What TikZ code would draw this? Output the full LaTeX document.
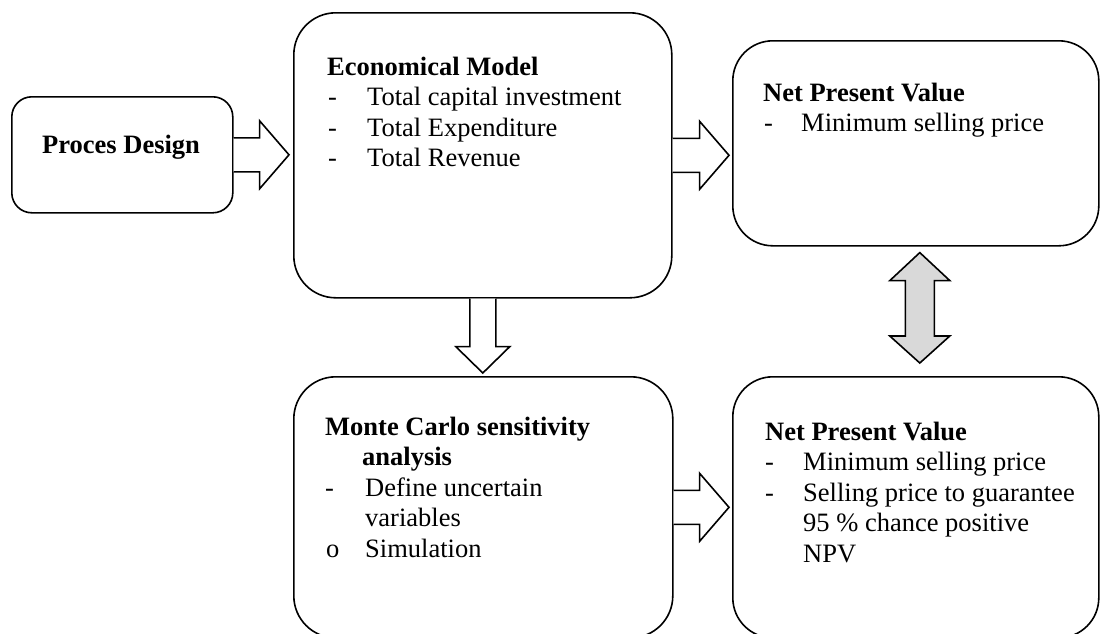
\documentclass[tikz,border=0pt]{standalone}
\usepackage{fontspec}
\setmainfont{Liberation Serif}
\usetikzlibrary{calc}
\definecolor{arrowgrey}{HTML}{D9D9D9}
\begin{document}
\begin{tikzpicture}[x=1pt,y=-1pt,
  box/.style={draw=black, line width=1.6pt, fill=white, inner sep=0pt, anchor=north west},
  barrow/.style={draw=black, line width=1.6pt, fill=white, line join=miter},
  darrow/.style={draw=black, line width=1.6pt, fill=arrowgrey, line join=miter},
  txt/.style={font=\fontsize{26.5}{30.5}\selectfont, inner sep=0pt, anchor=base west},
  btxt/.style={txt, font=\fontsize{26.5}{30.5}\selectfont\bfseries}]
\clip (0,0) rectangle (1101,633);
\fill[white] (0,0) rectangle (1101,633);
% boxes
\node[box, rounded corners=20pt, minimum width=221pt, minimum height=116pt] (pd) at (11,96) {};
\node[box, rounded corners=42pt, minimum width=378pt, minimum height=285pt] (em) at (293,12) {};
\node[box, rounded corners=40pt, minimum width=366pt, minimum height=205pt] (npv1) at (732,40) {};
\node[box, rounded corners=42pt, minimum width=379pt, minimum height=261pt] (mc) at (293,376) {};
\node[box, rounded corners=40pt, minimum width=366pt, minimum height=261pt] (npv2) at (732,376) {};
% texts
\node[btxt] (pdt) at (42,153) {Proces Design};
\node[btxt] (emt) at (327,75) {Economical Model};
\node[txt] (emd1) at (328,105.5) {-};
\node[txt] (emi1) at (367,105.5) {Total capital investment};
\node[txt] (emd2) at (328,136) {-};
\node[txt] (emi2) at (367,136) {Total Expenditure};
\node[txt] (emd3) at (328,166.5) {-};
\node[txt] (emi3) at (367,166.5) {Total Revenue};
\node[btxt] (n1t) at (763,101) {Net Present Value};
\node[txt] (n1d1) at (764,131.5) {-};
\node[txt] (n1i1) at (801,131.5) {Minimum selling price};
\node[btxt] (mct1) at (325,435) {Monte Carlo sensitivity};
\node[btxt] (mct2) at (362,465.5) {analysis};
\node[txt] (mcd1) at (325,496) {-};
\node[txt] (mci1) at (365,496) {Define uncertain};
\node[txt] (mci1b) at (365,526.5) {variables};
\node[txt] (mcd2) at (326,557) {o};
\node[txt] (mci2) at (365,557) {Simulation};
\node[btxt] (n2t) at (765,440) {Net Present Value};
\node[txt] (n2d1) at (765,470.5) {-};
\node[txt] (n2i1) at (803,470.5) {Minimum selling price};
\node[txt] (n2d2) at (765,501) {-};
\node[txt] (n2i2) at (803,501) {Selling price to guarantee};
\node[txt] (n2i2b) at (803,531.5) {95 \% chance positive};
\node[txt] (n2i2c) at (803,562) {NPV};
% block arrows
\draw[barrow] ($(pd.east)+(0,-17)$) -- ++(26,0) -- ++(0,-17) -- ($(pd.east -| em.west)+(-4,0)$) -- ($(pd.east)+(26,34)$) -- ++(0,-17) -- ($(pd.east)+(0,17)$);
\draw[barrow] ($(em.east)+(0,-17)$) -- ++(27,0) -- ++(0,-17) -- ($(em.east -| npv1.west)+(-3,0)$) -- ($(em.east)+(27,34)$) -- ++(0,-17) -- ($(em.east)+(0,17)$);
\draw[barrow] ($(mc.east)+(0,-17)$) -- ++(26,0) -- ++(0,-17) -- ($(mc.east -| npv2.west)+(-3,0)$) -- ($(mc.east)+(26,34)$) -- ++(0,-17) -- ($(mc.east)+(0,17)$);
\draw[barrow] ($(em.south)+(-13,0)$) -- ++(0,48) -- ++(-14,0) -- ($(em.south |- mc.north)+(0,-3)$) -- ($(em.south)+(27,48)$) -- ++(-14,0) -- ($(em.south)+(13,0)$);
% double arrow
\coordinate (dt) at ($(npv1.south)+(4,6)$);
\coordinate (db) at ($(npv2.north)+(4,-13)$);
\draw[darrow] (dt) -- ++(30,28) -- ++(-15.5,0) -- ($(db)+(14.5,-27)$) -- ++(15.5,0) -- (db) -- ++(-30,-27) -- ++(15.5,0) -- ($(dt)+(-14.5,28)$) -- ++(-15.5,0) -- cycle;
\end{tikzpicture}
\end{document}
